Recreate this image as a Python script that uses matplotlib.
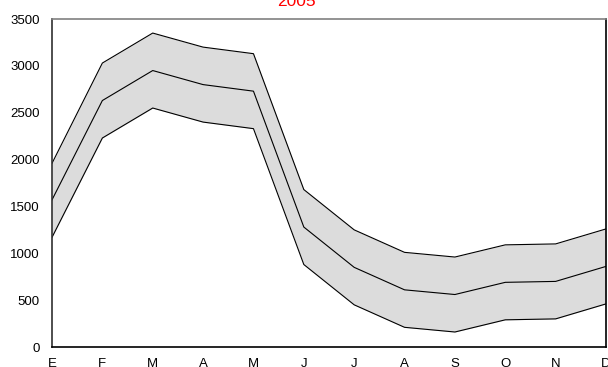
import matplotlib
matplotlib.use("Agg")
import matplotlib.pyplot as plt
import numpy as np

plt.rcParams["font.family"] = ["Liberation Sans", "DejaVu Sans"]

months = ["E", "F", "M", "A", "M", "J", "J", "A", "S", "O", "N", "D"]
upper = [1960, 3030, 3350, 3200, 3130, 1680, 1250, 1010, 960, 1090, 1100, 1260]
middle = [1570, 2630, 2950, 2800, 2730, 1280, 850, 610, 560, 690, 700, 860]
lower = [1170, 2230, 2550, 2400, 2330, 880, 450, 210, 160, 290, 300, 460]

x = np.arange(len(months))

fig = plt.figure(figsize=(6.08, 3.67), dpi=100)
ax = fig.add_axes([52 / 608, 20 / 367, 554 / 608, 328 / 367])

ax.fill_between(x, lower, upper, color="#dcdcdc", linewidth=0)
ax.plot(x, upper, color="black", lw=0.8)
ax.plot(x, middle, color="black", lw=0.8)
ax.plot(x, lower, color="black", lw=0.8)

ax.set_xlim(0, 11)
ax.set_ylim(0, 3500)
ax.set_yticks(range(0, 3501, 500))
ax.set_xticks(x)
ax.set_xticklabels(months)
ax.tick_params(length=0, labelsize=9.5)
ax.tick_params(axis="y", pad=9)
ax.tick_params(axis="x", pad=8)

ax.spines["top"].set_color("#808080")
ax.spines["left"].set_color("#303030")
ax.spines["bottom"].set_color("black")
ax.spines["right"].set_color("black")
for s in ax.spines.values():
    s.set_linewidth(1.2)

# title sits a bit left of the axes centre in the original
ax.set_title("2005", color="red", fontsize=12.5, pad=9.5, x=(296 - 52) / 554)

fig.savefig("out.png", dpi=100)
